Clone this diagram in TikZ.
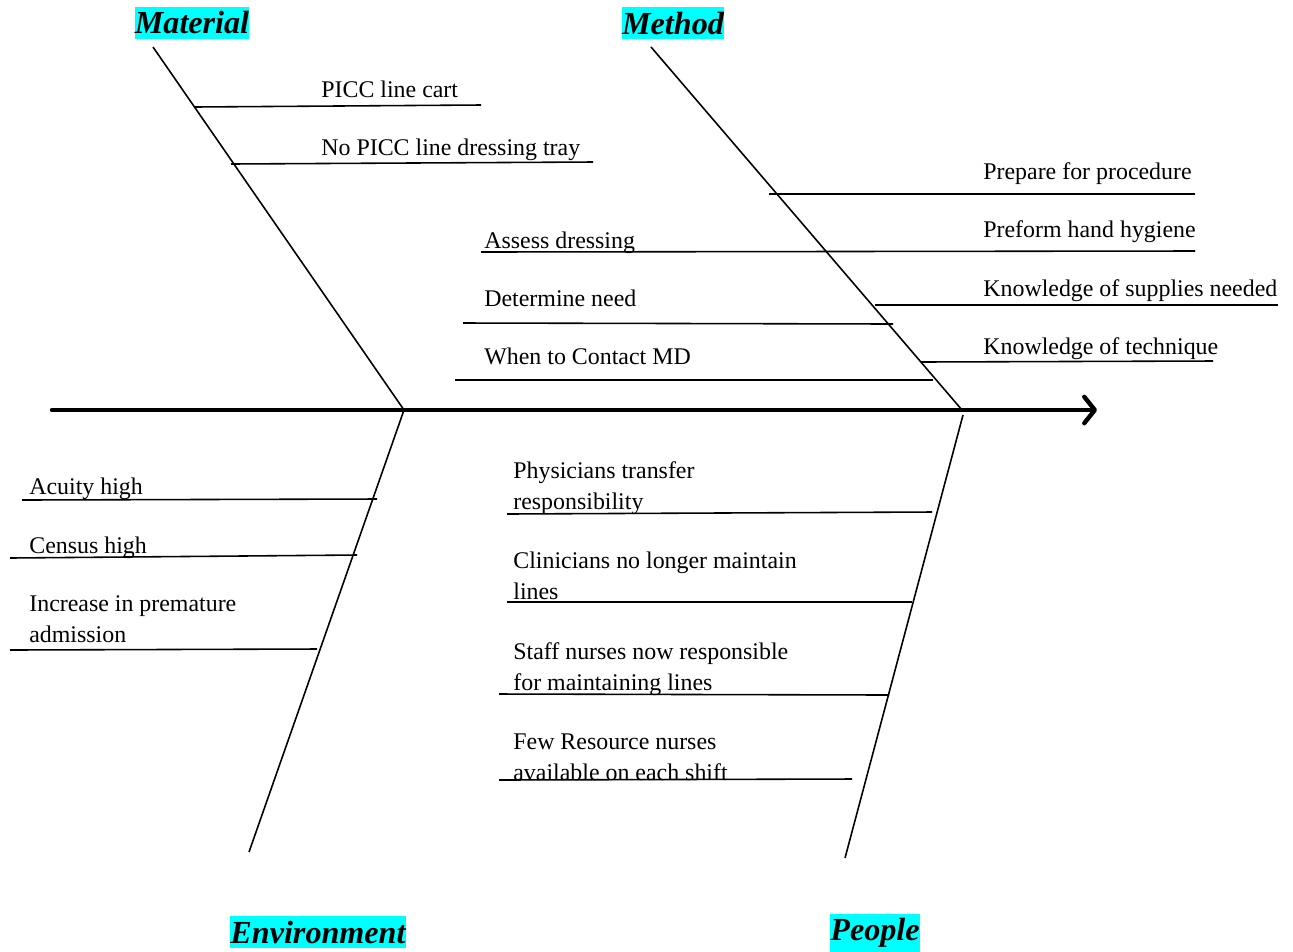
\documentclass[tikz,border=0pt]{standalone}
\usepackage{fontspec}
\setmainfont{Liberation Serif}
\usetikzlibrary{arrows.meta}
\definecolor{catcyan}{RGB}{0,255,255}
\begin{document}
\begin{tikzpicture}[x=0.02cm,y=-0.02cm,
  bone/.style={line width=0.9pt},
  twig/.style={line width=0.9pt},
  spine/.style={line width=2.5pt,line cap=round,-{Straight Barb[length=6pt,width=15pt,line cap=round,round]}},
  cat/.style={fill=catcyan,inner xsep=0pt,inner ysep=2.5pt,font=\fontsize{18.3}{18.3}\selectfont\bfseries\itshape},
  lbl/.style={anchor=base west,inner sep=0pt,align=left,font=\fontsize{13.6}{17.6}\selectfont}]
\useasboundingbox (0,0) rectangle (1293,951);
% category labels
\node[cat] (mat) at (192,23) {Material};
\node[cat] (met) at (673,23) {Method};
\node[cat] (env) at (318,932) {Environment};
\node[cat] (peo) at (875,933) {People};
% bone coordinates
\coordinate (matT) at (153,47);
\coordinate (matB) at (404,410);
\coordinate (metT) at (651,47);
\coordinate (metB) at (962,410);
\coordinate (envT) at (404,410);
\coordinate (envB) at (249,852);
\coordinate (peoT) at (963,415);
\coordinate (peoB) at (845,858);
\coordinate (sL) at (52,410);
\coordinate (sR) at (1097,410);
% spine
\draw[spine] (sL) -- (sR);
% bones
\draw[bone] (matT) -- (matB);
\draw[bone] (metT) -- (metB);
\draw[bone] (envT) -- (envB);
\draw[bone] (peoT) -- (peoB);
% Material twigs
\node[lbl] (m1) at (321,97) {PICC line cart};
\node[lbl] (m2) at (321,155) {No PICC line dressing tray};
\coordinate (m1a) at (195,107); \coordinate (m1b) at (481,105);
\coordinate (m2a) at (231,164); \coordinate (m2b) at (593,162);
\draw[twig] (m1a) -- (m1b);
\draw[twig] (m2a) -- (m2b);
% Method twigs
\node[lbl] (t1) at (983,179) {Prepare for procedure};
\node[lbl] (t2) at (983,237) {Preform hand hygiene};
\node[lbl] (t3) at (484,248) {Assess dressing};
\node[lbl] (t4) at (983,296) {Knowledge of supplies needed};
\node[lbl] (t5) at (484,306) {Determine need};
\node[lbl] (t6) at (983,354) {Knowledge of technique};
\node[lbl] (t7) at (484,364) {When to Contact MD};
\coordinate (t1a) at (769,194); \coordinate (t1b) at (1195,194);
\coordinate (t2a) at (481,252); \coordinate (t2b) at (1195,251);
\coordinate (t4a) at (875,305); \coordinate (t4b) at (1278,305);
\coordinate (t5a) at (463,323); \coordinate (t5b) at (893,324);
\coordinate (t6a) at (921,362); \coordinate (t6b) at (1213,361);
\coordinate (t7a) at (455,380); \coordinate (t7b) at (933,380);
\draw[twig] (t1a) -- (t1b);
\draw[twig] (t2a) -- (t2b);
\draw[twig] (t4a) -- (t4b);
\draw[twig] (t5a) -- (t5b);
\draw[twig] (t6a) -- (t6b);
\draw[twig] (t7a) -- (t7b);
% Environment twigs
\node[lbl] (e1) at (29,494) {Acuity high};
\node[lbl] (e2) at (29,553) {Census high};
\node[lbl] (e3) at (29,642) {Increase in premature\\admission};
\coordinate (e1a) at (22,500); \coordinate (e1b) at (377,499);
\coordinate (e2a) at (10,558); \coordinate (e2b) at (357,555);
\coordinate (e3a) at (10,650); \coordinate (e3b) at (317,649);
\draw[twig] (e1a) -- (e1b);
\draw[twig] (e2a) -- (e2b);
\draw[twig] (e3a) -- (e3b);
% People twigs
\node[lbl] (p1) at (513,509) {Physicians transfer\\responsibility};
\node[lbl] (p2) at (513,599) {Clinicians no longer maintain\\lines};
\node[lbl] (p3) at (513,690) {Staff nurses now responsible\\for maintaining lines};
\node[lbl] (p4) at (513,780) {Few Resource nurses\\available on each shift};
\coordinate (p1a) at (507,514); \coordinate (p1b) at (932,512);
\coordinate (p2a) at (507,602); \coordinate (p2b) at (912,602);
\coordinate (p3a) at (499,694); \coordinate (p3b) at (889,695);
\coordinate (p4a) at (499,780); \coordinate (p4b) at (852,779);
\draw[twig] (p1a) -- (p1b);
\draw[twig] (p2a) -- (p2b);
\draw[twig] (p3a) -- (p3b);
\draw[twig] (p4a) -- (p4b);
\end{tikzpicture}
\end{document}
